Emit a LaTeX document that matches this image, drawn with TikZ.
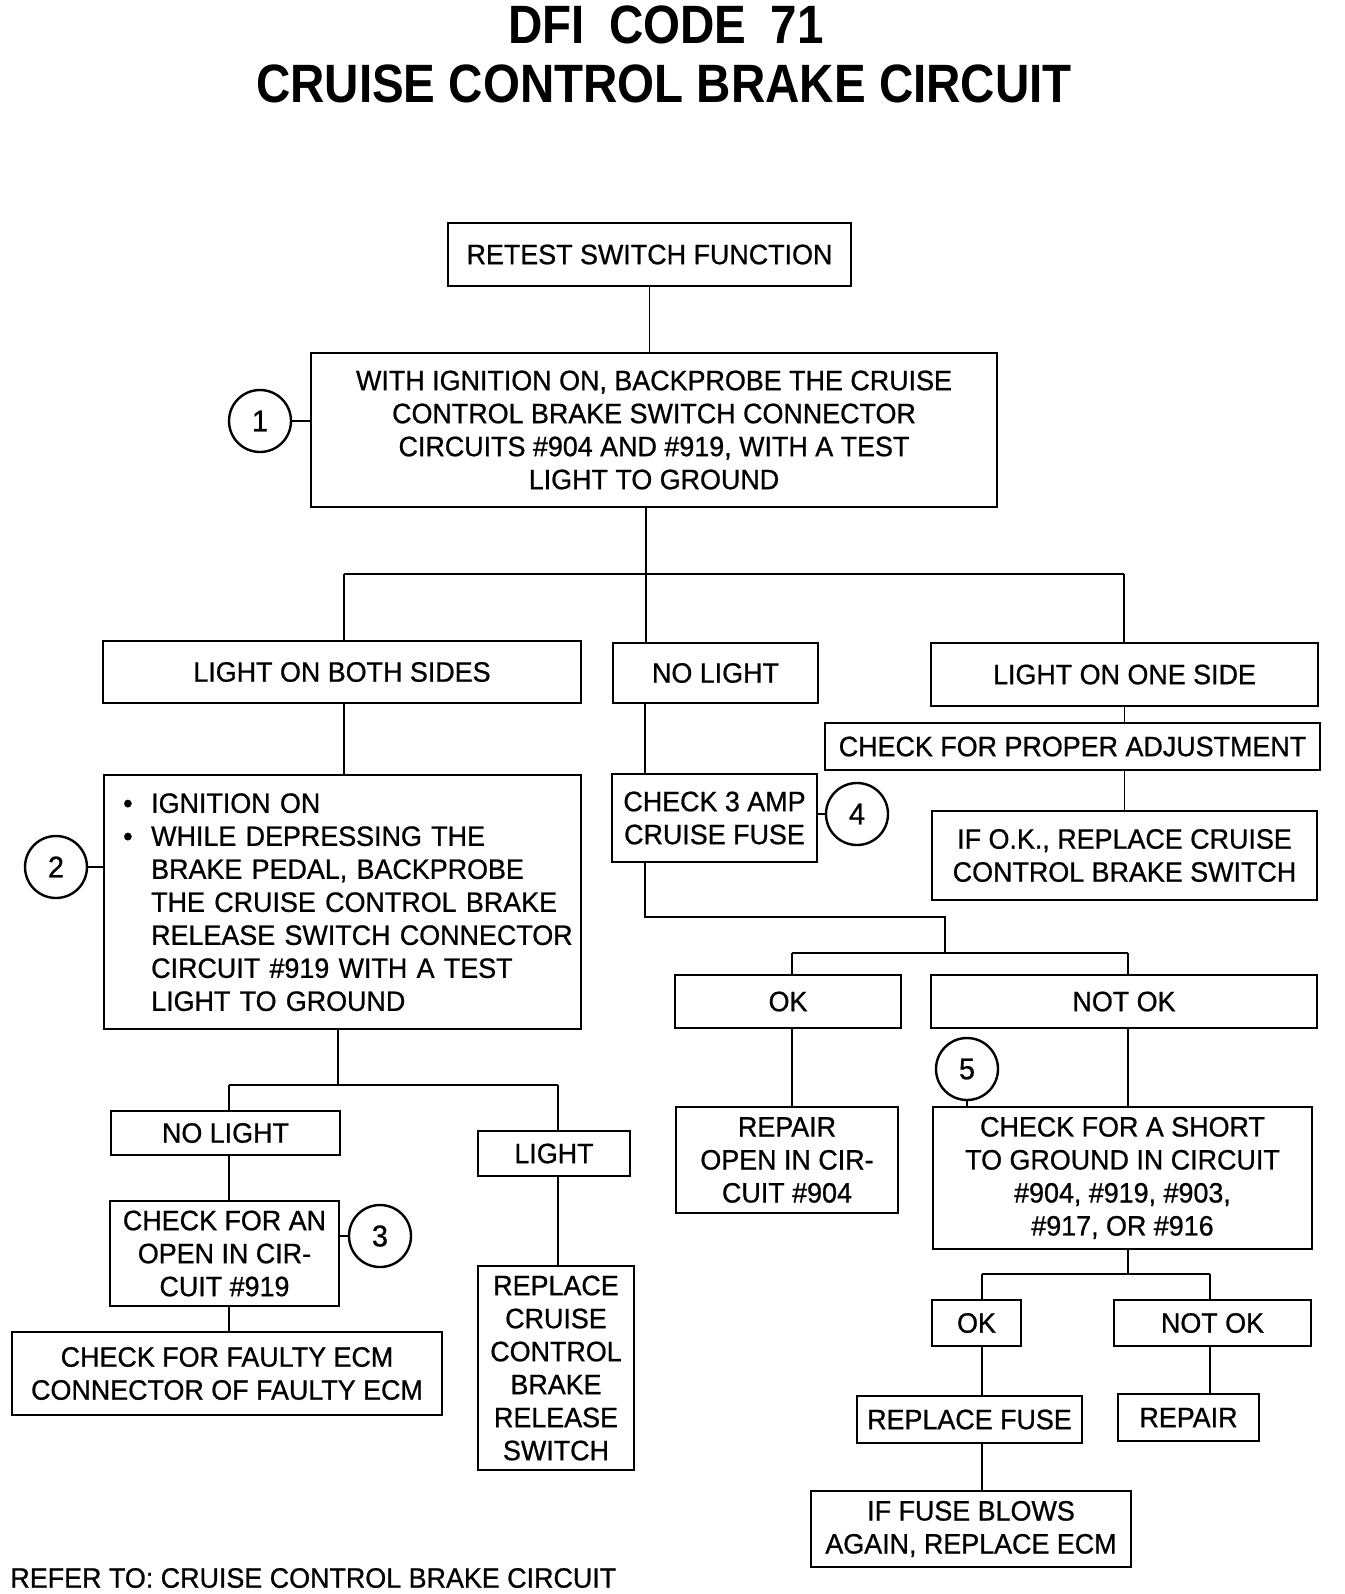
\documentclass[tikz,border=0pt]{standalone}
\usepackage{fontspec}
\setmainfont[FakeStretch=0.96,FakeBold=0.8]{Liberation Sans}
\newfontfamily\titlefont[FakeStretch=0.88]{Liberation Sans}
\usetikzlibrary{calc}
\tikzset{
  boxst/.style={draw, line width=1.2pt, align=center, inner sep=2pt, font=\fontsize{14}{16.5}\selectfont},
  numc/.style={draw, circle, line width=1.2pt, minimum size=31pt, inner sep=0pt, font=\fontsize{15}{16}\selectfont},
  conn/.style={line width=0.9pt},
  ttl/.style={font=\titlefont\bfseries\fontsize{27}{30}\selectfont},
  foot/.style={font=\fontsize{14}{16.5}\selectfont, inner sep=0pt, anchor=west}
}
\newcommand\bx[6]{%
  \pgfmathsetmacro\bxw{(#4-#2)*0.5}%
  \pgfmathsetmacro\bxh{(#5-#3)*0.5}%
  \node[boxst, minimum width=\bxw pt, minimum height=\bxh pt] (#1) at ({(#2+#4)/2},{(#3+#5)/2}) {#6};}
\begin{document}
\begin{tikzpicture}[x=0.5pt, y=-0.5pt]
\fill[white] (0,0) rectangle (1344,1594);
\useasboundingbox (0,0) rectangle (1344,1594);

% titles
\node[ttl] (t1) at (666,25) {DFI\hspace{0.45em}CODE\hspace{0.45em}71};
\node[ttl] (t2) at (664,84) {CRUISE CONTROL BRAKE CIRCUIT};

% boxes
\bx{retest}{448}{223}{851}{286}{RETEST SWITCH FUNCTION}
\bx{box1}{311}{353}{997}{507}{WITH IGNITION ON, BACKPROBE THE CRUISE\\CONTROL BRAKE SWITCH CONNECTOR\\CIRCUITS \#904 AND \#919, WITH A TEST\\LIGHT TO GROUND}
\bx{lboth}{103}{641}{581}{703}{LIGHT ON BOTH SIDES}
\bx{nol}{613}{643}{818}{703}{NO LIGHT}
\bx{lone}{931}{643}{1318}{706}{LIGHT ON ONE SIDE}
\bx{adj}{825}{723}{1320}{770}{CHECK FOR PROPER ADJUSTMENT}
\bx{ifok}{932}{811}{1317}{900}{IF O.K., REPLACE CRUISE\\CONTROL BRAKE SWITCH}
\node[boxst, align=left, text width=226.5pt, inner xsep=6pt, minimum height=127pt, anchor=north west] (b2) at (103,774)
 {\hspace*{3.5pt}\makebox[14pt][l]{\textbullet}\mbox{IGNITION ON}\\
  \hspace*{3.5pt}\makebox[14pt][l]{\textbullet}\mbox{WHILE DEPRESSING THE}\\
  \hspace*{17.5pt}\mbox{BRAKE PEDAL, BACKPROBE}\\
  \hspace*{17.5pt}\mbox{THE CRUISE CONTROL BRAKE}\\
  \hspace*{17.5pt}\mbox{RELEASE SWITCH CONNECTOR}\\
  \hspace*{17.5pt}\mbox{CIRCUIT \#919 WITH A TEST}\\
  \hspace*{17.5pt}\mbox{LIGHT TO GROUND}};
\bx{fuse}{612}{774}{817}{862}{CHECK 3 AMP\\CRUISE FUSE}
\bx{ok1}{675}{975}{901}{1028}{OK}
\bx{nok1}{931}{975}{1317}{1028}{NOT OK}
\bx{rep904}{676}{1107}{898}{1213}{REPAIR\\OPEN IN CIR-\\CUIT \#904}
\bx{short}{933}{1107}{1312}{1249}{CHECK FOR A SHORT\\TO GROUND IN CIRCUIT\\\#904, \#919, \#903,\\\#917, OR \#916}
\bx{ok2}{932}{1300}{1021}{1346}{OK}
\bx{nok2}{1114}{1300}{1311}{1346}{NOT OK}
\bx{rfuse}{857}{1396}{1082}{1443}{REPLACE FUSE}
\bx{rep}{1118}{1394}{1259}{1441}{REPAIR}
\bx{blows}{811}{1491}{1131}{1567}{IF FUSE BLOWS\\AGAIN, REPLACE ECM}
\bx{nol2}{111}{1111}{340}{1155}{NO LIGHT}
\bx{light}{478}{1131}{630}{1176}{LIGHT}
\bx{open}{110}{1201}{339}{1306}{CHECK FOR AN\\OPEN IN CIR-\\CUIT \#919}
\bx{ecm}{12}{1332}{442}{1415}{CHECK FOR FAULTY ECM\\CONNECTOR OF FAULTY ECM}
\bx{rsw}{478}{1266}{634}{1470}{REPLACE\\CRUISE\\CONTROL\\BRAKE\\RELEASE\\SWITCH}

% numbered circles
\node[numc] (c1) at (260,421) {1};
\node[numc] (c2) at (56,867) {2};
\node[numc] (c3) at (380,1236) {3};
\node[numc] (c4) at (857,814) {4};
\node[numc] (c5) at (967,1069) {5};

% footer
\node[foot] (ref) at (10,1578) {REFER TO: CRUISE CONTROL BRAKE CIRCUIT};

% junction coordinates
\coordinate (j1) at (646,574);
\coordinate (j1l) at (344,574);
\coordinate (j1r) at (1124,574);
\coordinate (j2) at (645,917);
\coordinate (j3) at (945,917);
\coordinate (j4) at (945,953);
\coordinate (j4l) at (792,953);
\coordinate (j4r) at (1128,953);
\coordinate (j5) at (1128,1274);
\coordinate (j5l) at (982,1274);
\coordinate (j5r) at (1210,1274);
\coordinate (j6) at (338,1085);
\coordinate (j6l) at (229,1085);
\coordinate (j6r) at (558,1085);

% connectors
\draw[conn] (retest.south) -- (retest.south |- box1.north);
\draw[conn] (c1.east) -- (c1.east -| box1.west);
\draw[conn] (box1.south -| j1) -- (j1);
\draw[conn] (j1l) -- (j1r);
\draw[conn] (j1l) -- (j1l |- lboth.north);
\draw[conn] (j1) -- (j1 |- nol.north);
\draw[conn] (j1r) -- (j1r |- lone.north);
\draw[conn] (lone.south) -- (lone.south |- adj.north);
\draw[conn] (lone.south |- adj.south) -- (lone.south |- ifok.north);
\draw[conn] (lboth.south -| j1l) -- (j1l |- b2.north);
\draw[conn] (c2.east) -- (c2.east -| b2.west);
\draw[conn] (nol.south -| j2) -- (j2 |- fuse.north);
\draw[conn] (fuse.east |- c4.west) -- (c4.west);
\draw[conn] (fuse.south -| j2) -- (j2) -- (j3) -- (j4);
\draw[conn] (j4l) -- (j4r);
\draw[conn] (j4l) -- (j4l |- ok1.north);
\draw[conn] (j4r) -- (j4r |- nok1.north);
\draw[conn] (ok1.south -| j4l) -- (j4l |- rep904.north);
\draw[conn] (nok1.south -| j4r) -- (j4r |- short.north);
\draw[conn] (c5.south) -- (c5.south |- short.north);
\draw[conn] (short.south -| j5) -- (j5);
\draw[conn] (j5l) -- (j5r);
\draw[conn] (j5l) -- (j5l |- ok2.north);
\draw[conn] (j5r) -- (j5r |- nok2.north);
\draw[conn] (ok2.south -| j5l) -- (j5l |- rfuse.north);
\draw[conn] (nok2.south -| j5r) -- (j5r |- rep.north);
\draw[conn] (rfuse.south -| j5l) -- (j5l |- blows.north);
\draw[conn] (b2.south -| j6) -- (j6);
\draw[conn] (j6l) -- (j6r);
\draw[conn] (j6l) -- (j6l |- nol2.north);
\draw[conn] (j6r) -- (j6r |- light.north);
\draw[conn] (nol2.south -| j6l) -- (j6l |- open.north);
\draw[conn] (c3.west -| open.east) -- (c3.west);
\draw[conn] (open.south -| j6l) -- (j6l |- ecm.north);
\draw[conn] (light.south -| j6r) -- (j6r |- rsw.north);
\end{tikzpicture}
\end{document}
